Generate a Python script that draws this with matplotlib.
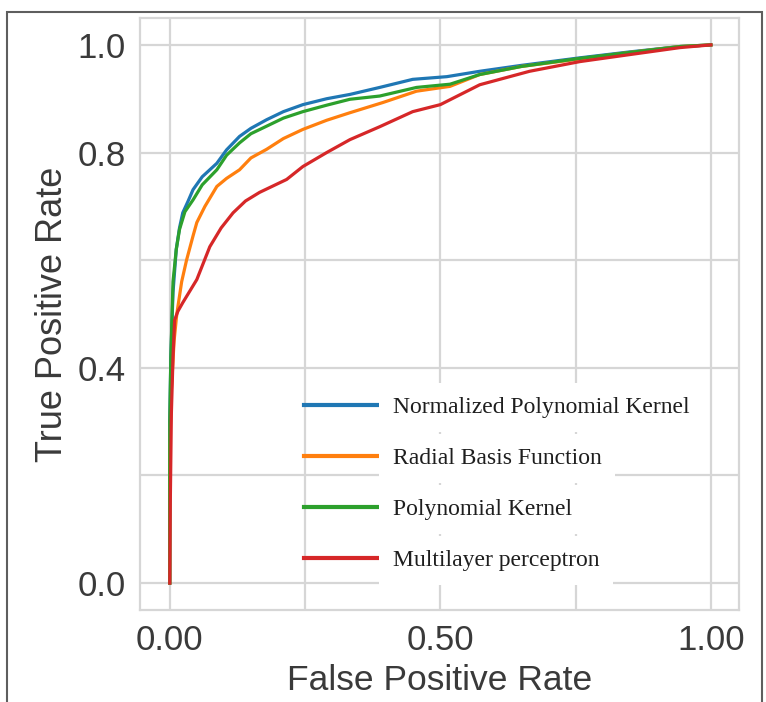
import matplotlib.pyplot as plt
from matplotlib.patches import Rectangle

# ROC curves (false positive rate, true positive rate)
npk_fpr = [0.0, 0.0, 0.002, 0.006, 0.012, 0.018, 0.024, 0.034, 0.043, 0.06, 0.087, 0.105, 0.129, 0.15, 0.179, 0.21, 0.246, 0.29, 0.333, 0.388, 0.449, 0.512, 0.573, 0.65, 0.758, 0.85, 0.943, 1.0]
npk_tpr = [0.0, 0.3, 0.42, 0.54, 0.62, 0.66, 0.688, 0.71, 0.731, 0.755, 0.78, 0.805, 0.83, 0.845, 0.861, 0.876, 0.889, 0.9, 0.908, 0.921, 0.936, 0.941, 0.951, 0.962, 0.976, 0.987, 0.997, 1.0]

rbf_fpr = [0.0, 0.0, 0.003, 0.008, 0.013, 0.022, 0.031, 0.043, 0.05, 0.065, 0.087, 0.105, 0.129, 0.15, 0.179, 0.21, 0.246, 0.29, 0.333, 0.394, 0.456, 0.518, 0.573, 0.65, 0.758, 0.85, 0.943, 1.0]
rbf_tpr = [0.0, 0.25, 0.36, 0.45, 0.5, 0.56, 0.6, 0.645, 0.67, 0.7, 0.737, 0.752, 0.768, 0.79, 0.806, 0.826, 0.843, 0.86, 0.874, 0.893, 0.914, 0.923, 0.945, 0.96, 0.974, 0.986, 0.997, 1.0]

pk_fpr = [0.0, 0.0, 0.002, 0.006, 0.012, 0.018, 0.028, 0.043, 0.06, 0.087, 0.105, 0.129, 0.15, 0.179, 0.21, 0.246, 0.29, 0.333, 0.388, 0.456, 0.518, 0.573, 0.65, 0.758, 0.85, 0.943, 1.0]
pk_tpr = [0.0, 0.3, 0.42, 0.56, 0.62, 0.657, 0.69, 0.712, 0.74, 0.768, 0.795, 0.818, 0.835, 0.849, 0.864, 0.876, 0.888, 0.899, 0.905, 0.921, 0.927, 0.945, 0.96, 0.975, 0.986, 0.997, 1.0]

mlp_fpr = [0.0, 0.001, 0.003, 0.006, 0.009, 0.015, 0.024, 0.05, 0.074, 0.095, 0.117, 0.14, 0.166, 0.216, 0.246, 0.29, 0.333, 0.388, 0.449, 0.5, 0.573, 0.665, 0.758, 0.85, 0.943, 1.0]
mlp_tpr = [0.0, 0.15, 0.316, 0.42, 0.489, 0.505, 0.521, 0.564, 0.625, 0.66, 0.688, 0.71, 0.726, 0.75, 0.774, 0.8, 0.824, 0.848, 0.876, 0.889, 0.926, 0.951, 0.969, 0.982, 0.995, 1.0]

labels = ["Normalized Polynomial Kernel", "Radial Basis Function", "Polynomial Kernel", "Multilayer perceptron"]
colors = ["#1f77b4", "#ff7f0e", "#2ca02c", "#d62728"]

xticks = [0.0, 0.25, 0.5, 0.75, 1.0]
xticklabels = ["0.00", "", "0.50", "", "1.00"]
yticks = [0.0, 0.2, 0.4, 0.6, 0.8, 1.0]
yticklabels = ["0.0", "", "0.4", "", "0.8", "1.0"]

plt.rcParams["font.family"] = ["Liberation Sans", "DejaVu Sans"]

fig = plt.figure(figsize=(7.66, 7.02), dpi=100)
ax = fig.add_axes([140 / 766, 92 / 702, 599 / 766, 592 / 702])

# outer frame of the picture
fig.patches.append(Rectangle((7 / 766, -0.05), 755 / 766, 1.05 - 12 / 702,
                             transform=fig.transFigure, fill=False,
                             edgecolor="#5e5e5e", linewidth=1.5))

curves = [(npk_fpr, npk_tpr), (rbf_fpr, rbf_tpr), (pk_fpr, pk_tpr), (mlp_fpr, mlp_tpr)]
for (fx, ty), lab, col in zip(curves, labels, colors):
    ax.plot(fx, ty, color=col, linewidth=2.3, label=lab, zorder=3)

ax.set_xlim(-0.055, 1.052)
ax.set_ylim(-0.05, 1.05)
ax.set_xticks(xticks)
ax.set_xticklabels(xticklabels)
ax.set_yticks(yticks)
ax.set_yticklabels(yticklabels)
ax.tick_params(length=0, labelsize=25, labelcolor="#3a3a3a", pad=10)
ax.grid(True, color="#d6d6d6", linewidth=1.6)
ax.set_axisbelow(True)
for s in ax.spines.values():
    s.set_color("#d6d6d6")
    s.set_linewidth(1.6)

ax.set_xlabel("False Positive Rate", fontsize=25.5, color="#3a3a3a", labelpad=5)
ax.set_ylabel("True Positive Rate", fontsize=26, color="#3a3a3a", labelpad=6)

leg = ax.legend(loc="upper left", bbox_to_anchor=(143 / 599, 235 / 592),
                frameon=False, prop={"family": "Liberation Serif", "size": 17},
                handlelength=3.2, handletextpad=0.55, labelspacing=1.25)
for t in leg.get_texts():
    t.set_color("#1e1e1e")
    t.set_bbox(dict(facecolor="white", edgecolor="none", pad=10))
for h in leg.get_lines():
    h.set_linewidth(3)

fig.savefig("out.png", dpi=100)
